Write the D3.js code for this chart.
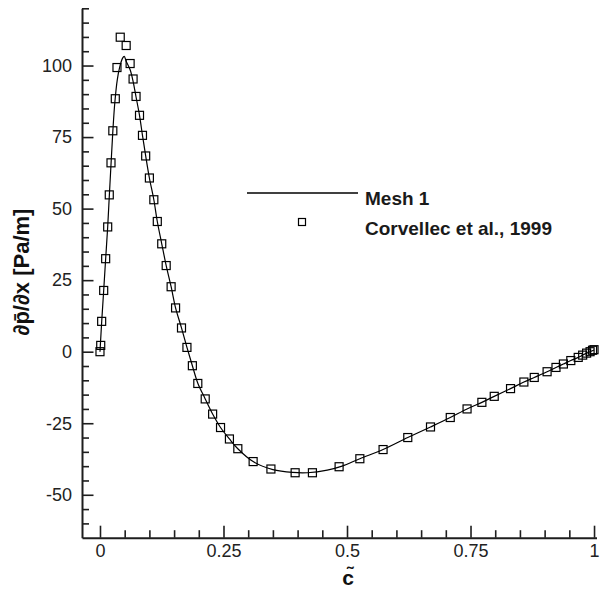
<!DOCTYPE html>
<html>
<head>
<meta charset="utf-8">
<script src="https://cdn.jsdelivr.net/npm/d3@7"></script>
<style>
  html, body { margin: 0; padding: 0; background: #fff; }
  svg { display: block; font-family: "Liberation Sans", Arial, Helvetica, sans-serif; }
</style>
</head>
<body>
<svg id="chart" width="605" height="591"></svg>
<script>
// ---- data ----
const meshC = [0, 0.0035, 0.0075, 0.0115, 0.0156, 0.019, 0.0225, 0.026, 0.030, 0.035, 0.040, 0.0455, 0.049, 0.053, 0.061, 0.067, 0.073, 0.080, 0.086, 0.0925, 0.100, 0.109, 0.116, 0.125, 0.134, 0.144, 0.153, 0.165, 0.176, 0.187, 0.198, 0.213, 0.228, 0.244, 0.262, 0.279, 0.310, 0.350, 0.390, 0.420, 0.460, 0.490, 0.526, 0.573, 0.623, 0.669, 0.709, 0.743, 0.773, 0.798, 0.831, 0.858, 0.879, 0.905, 0.923, 0.938, 0.953, 0.968, 0.977, 0.985, 0.992, 1.0];
const meshV = [0, 10.6, 21.4, 32.5, 43.6, 54.8, 66, 77, 87, 95, 99.5, 102.5, 103.2, 101.5, 98.5, 94.5, 89, 82.6, 75.6, 68.4, 60.7, 53.1, 45.5, 37.7, 30.1, 22.7, 15.3, 8.3, 1.5, -4.9, -11, -16.5, -21.8, -26.5, -30.5, -33.9, -38.4, -41.2, -42.2, -42.3, -41.4, -40.0, -37.4, -34.2, -30, -26.3, -23, -20, -17.7, -15.6, -12.9, -10.6, -9, -7, -5.5, -4.3, -3.1, -2, -1.2, -0.5, 0, 0.6];

const expC = [0.000, 0.0015, 0.0034, 0.0075, 0.0115, 0.0156, 0.0188, 0.0223, 0.026, 0.031, 0.0344, 0.041, 0.053, 0.061, 0.067, 0.073, 0.080, 0.086, 0.0925, 0.100, 0.109, 0.116, 0.125, 0.134, 0.144, 0.153, 0.165, 0.176, 0.187, 0.198, 0.213, 0.228, 0.244, 0.262, 0.279, 0.310, 0.346, 0.395, 0.430, 0.484, 0.526, 0.573, 0.623, 0.669, 0.709, 0.743, 0.773, 0.798, 0.831, 0.858, 0.879, 0.905, 0.923, 0.938, 0.953, 0.968, 0.977, 0.985, 0.992, 0.997, 1.0];
const expV = [0.0, 2.2, 10.6, 21.4, 32.5, 43.6, 54.8, 66.0, 77.2, 88.4, 99.3, 109.9, 107.0, 100.7, 95.3, 89.2, 82.6, 75.6, 68.4, 60.7, 53.1, 45.5, 37.7, 30.1, 22.7, 15.3, 8.3, 1.5, -4.9, -11.1, -16.5, -21.8, -26.5, -30.5, -33.9, -38.4, -41.0, -42.3, -42.3, -40.2, -37.4, -34.2, -30.0, -26.3, -23.0, -20.0, -17.7, -15.6, -12.9, -10.6, -9.0, -7.0, -5.5, -4.3, -3.1, -2.0, -1.2, -0.5, 0.0, 0.5, 0.7];

const xMajorTicks = [0, 0.25, 0.5, 0.75, 1];
const xTickLabels = ["0", "0.25", "0.5", "0.75", "1"];
const yMajorTicks = [-50, -25, 0, 25, 50, 75, 100];
const yTickLabels = ["-50", "-25", "0", "25", "50", "75", "100"];
const seriesNames = ["Mesh 1", "Corvellec et al., 1999"];

// ---- scales ----
const svg = d3.select("#chart");
const x = d3.scaleLinear().domain([-0.0364, 1.005]).range([82, 596.5]);
const y = d3.scaleLinear().domain([-65, 120]).range([537.7, 8.3]);

const axisColor = "#1e1e1e";
const labelFont = 18;

const xMinor = d3.range(0, 1.0001, 0.05).filter(v => !xMajorTicks.some(t => Math.abs(t - v) < 1e-9));
const yMinor = d3.range(-60, 120.001, 5).filter(v => !yMajorTicks.some(t => Math.abs(t - v) < 1e-9));

// x axis
const gx = svg.append("g").attr("transform", `translate(0,${y(-65)})`);
gx.call(d3.axisBottom(x).tickValues(xMajorTicks).tickFormat((d, i) => xTickLabels[i])
  .tickSize(-12).tickSizeOuter(0).tickPadding(6.5));
gx.append("g").call(d3.axisBottom(x).tickValues(xMinor).tickFormat("").tickSize(-7.5).tickSizeOuter(0))
  .select(".domain").remove();

// y axis
const gy = svg.append("g").attr("transform", `translate(${x(-0.0364)},0)`);
gy.call(d3.axisLeft(y).tickValues(yMajorTicks).tickFormat((d, i) => yTickLabels[i])
  .tickSize(-11.5).tickSizeOuter(0).tickPadding(10));
gy.append("g").call(d3.axisLeft(y).tickValues(yMinor).tickFormat("").tickSize(-7).tickSizeOuter(0))
  .select(".domain").remove();

svg.selectAll(".domain").attr("stroke", axisColor).attr("stroke-width", 2);
svg.selectAll(".tick line").attr("stroke", axisColor).attr("stroke-width", 1.6);
svg.selectAll(".tick text").attr("fill", "#222").attr("font-size", labelFont)
  .attr("font-family", "'Liberation Sans', Arial, sans-serif");

// ---- mesh line ----
const meshData = meshC.map((c, i) => [c, meshV[i]]);
svg.append("path")
  .datum(meshData)
  .attr("fill", "none")
  .attr("stroke", "#000")
  .attr("stroke-width", 1.2)
  .attr("d", d3.line().x(d => x(d[0])).y(d => y(d[1])).curve(d3.curveCatmullRom.alpha(0.5)));

// ---- experimental squares ----
const sq = 8;
const expData = expC.map((c, i) => [c, expV[i]]);
svg.append("g").selectAll("rect").data(expData).join("rect")
  .attr("x", d => x(d[0]) - sq / 2)
  .attr("y", d => y(d[1]) - sq / 2)
  .attr("width", sq).attr("height", sq)
  .attr("fill", "none")
  .attr("stroke", "#000")
  .attr("stroke-width", 1.2);

// ---- axis titles ----
svg.append("text")
  .attr("x", 348).attr("y", 585)
  .attr("text-anchor", "middle")
  .attr("font-size", 21).attr("font-weight", "bold").attr("fill", "#111")
  .text("c\u0303");

svg.append("text")
  .attr("transform", "translate(29,272) rotate(-90)")
  .attr("text-anchor", "middle")
  .attr("font-size", 22).attr("font-weight", "bold").attr("fill", "#111")
  .text("\u2202p\u0304/\u2202x [Pa/m]");

// ---- legend ----
const leg = svg.append("g");
leg.append("line").attr("x1", 247).attr("x2", 358).attr("y1", 193).attr("y2", 193)
  .attr("stroke", "#000").attr("stroke-width", 1.3);
leg.append("text").attr("x", 365).attr("y", 205)
  .attr("font-size", 19).attr("font-weight", "bold").attr("fill", "#1a1a1a")
  .text(seriesNames[0]);
leg.append("rect").attr("x", 302 - 3.5).attr("y", 222 - 3.5).attr("width", 7).attr("height", 7)
  .attr("fill", "none").attr("stroke", "#000").attr("stroke-width", 1.2);
leg.append("text").attr("x", 365).attr("y", 235)
  .attr("font-size", 19).attr("font-weight", "bold").attr("fill", "#1a1a1a")
  .text(seriesNames[1]);
</script>
</body>
</html>
